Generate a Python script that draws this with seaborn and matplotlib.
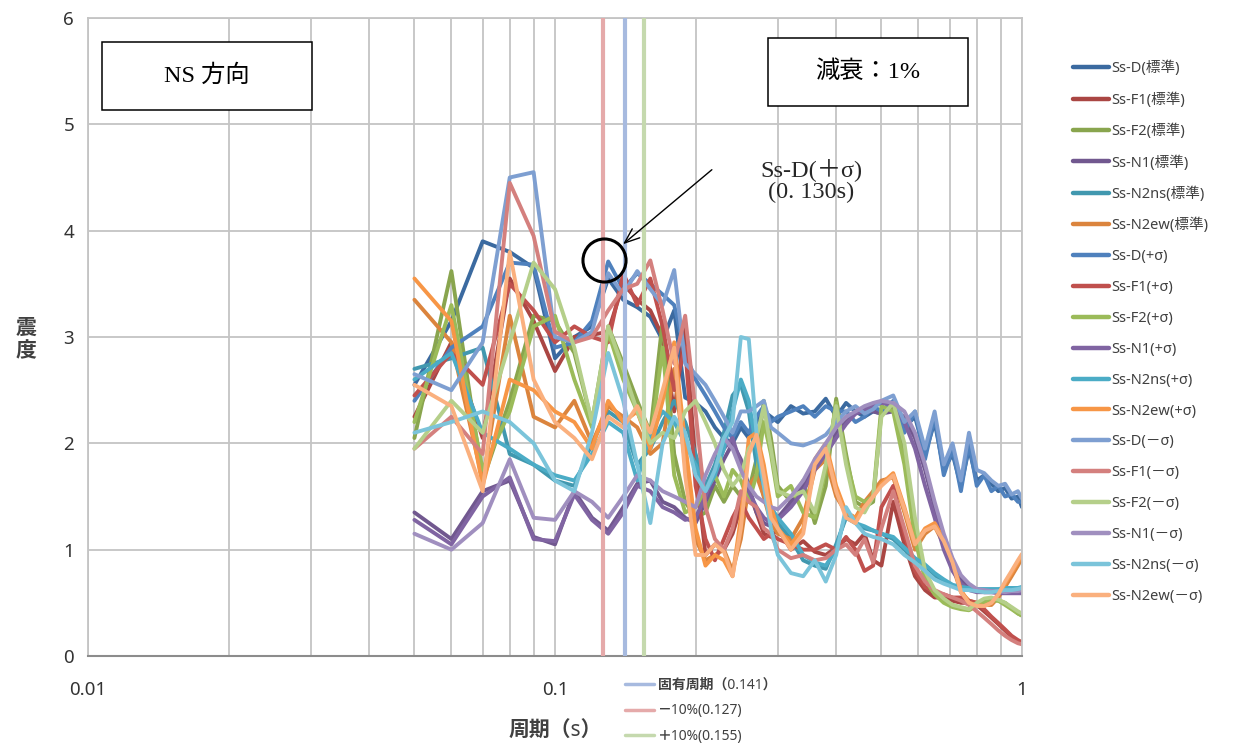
import numpy as np
import pandas as pd
import matplotlib
matplotlib.use("Agg")
import matplotlib.pyplot as plt
from matplotlib.lines import Line2D
from matplotlib.patches import Rectangle
from matplotlib.ticker import LogLocator, FixedLocator, NullFormatter
import seaborn as sns

# periods (s)
periods = [0.05, 0.06, 0.07, 0.08, 0.09, 0.10,
           0.11, 0.12, 0.13, 0.14, 0.15, 0.16, 0.17, 0.18, 0.19, 0.20,
           0.21, 0.22, 0.23, 0.24, 0.25, 0.26, 0.27, 0.28, 0.29, 0.30,
           0.32, 0.34, 0.36, 0.38, 0.40, 0.42, 0.44, 0.46, 0.48, 0.50,
           0.53, 0.56, 0.59, 0.62, 0.65, 0.68, 0.71, 0.74, 0.77, 0.80, 0.83,
           0.86, 0.89, 0.92, 0.95, 0.98, 1.00]

ss_d_std = [2.55, 3.15, 3.90, 3.80, 3.65, 2.80,
            3.00, 3.10, 3.55, 3.35, 3.28, 3.19, 2.97, 3.25, 2.43, 2.38,
            2.30, 2.15, 2.05, 2.00, 2.15, 2.05, 2.20, 2.30, 2.25, 2.20,
            2.35, 2.28, 2.30, 2.42, 2.25, 2.38, 2.30, 2.25, 2.30, 2.28,
            2.35, 2.15, 2.25, 1.90, 2.20, 1.75, 1.90, 1.60, 1.95, 1.65, 1.70,
            1.62, 1.55, 1.58, 1.48, 1.50, 1.40]
ss_f1_std = [2.25, 2.95, 2.05, 3.55, 3.15, 2.68,
             3.00, 3.02, 3.05, 3.50, 3.35, 3.25, 3.00, 2.30, 3.08, 1.80,
             0.95, 1.05, 1.00, 1.15, 1.40, 1.55, 1.35, 1.15, 1.12, 1.20,
             1.00, 1.08, 0.98, 0.95, 1.02, 1.10, 1.05, 1.15, 0.90, 0.85,
             1.45, 1.05, 0.75, 0.62, 0.55, 0.55, 0.52, 0.50, 0.50, 0.48, 0.42,
             0.36, 0.30, 0.24, 0.18, 0.14, 0.12]
ss_f2_std = [2.05, 3.62, 1.65, 2.40, 3.20, 3.15,
             2.85, 2.20, 3.10, 2.75, 2.40, 2.10, 3.15, 1.90, 1.45, 1.30,
             1.35, 1.60, 1.45, 1.60, 1.50, 1.55, 1.85, 2.40, 2.05, 1.60,
             1.45, 1.65, 1.25, 1.60, 2.42, 1.90, 1.45, 1.40, 1.45, 2.30,
             2.35, 1.90, 1.20, 0.75, 0.60, 0.52, 0.48, 0.45, 0.44, 0.48, 0.52,
             0.54, 0.52, 0.50, 0.45, 0.40, 0.38]
ss_n1_std = [1.35, 1.10, 1.55, 1.65, 1.12, 1.05,
             1.55, 1.30, 1.18, 1.40, 1.62, 1.65, 1.45, 1.40, 1.30, 1.25,
             1.45, 1.65, 1.85, 2.00, 1.85, 1.60, 1.35, 1.25, 1.22, 1.30,
             1.45, 1.60, 1.80, 1.95, 2.10, 2.20, 2.28, 2.30, 2.30, 2.28,
             2.30, 2.25, 2.05, 1.75, 1.40, 1.10, 0.88, 0.72, 0.65, 0.62, 0.60,
             0.60, 0.60, 0.60, 0.60, 0.60, 0.60]
ss_n2ns_std = [2.70, 2.80, 2.90, 1.90, 1.80, 1.65,
               1.60, 2.00, 2.30, 2.20, 1.80, 1.95, 2.20, 2.40, 2.20, 1.90,
               1.60, 1.80, 2.10, 2.45, 2.55, 2.30, 1.80, 1.50, 1.30, 1.25,
               1.10, 0.90, 0.85, 0.82, 1.05, 1.30, 1.25, 1.20, 1.18, 1.15,
               1.10, 1.00, 0.90, 0.85, 0.76, 0.70, 0.66, 0.64, 0.63, 0.62, 0.62,
               0.62, 0.61, 0.62, 0.62, 0.63, 0.63]
ss_n2ew_std = [3.35, 2.95, 1.65, 3.20, 2.25, 2.15,
               2.40, 2.00, 2.35, 2.25, 2.15, 1.90, 2.00, 2.70, 1.80, 1.10,
               0.90, 0.95, 1.00, 0.80, 1.10, 1.60, 1.70, 1.50, 1.25, 1.15,
               1.10, 1.30, 1.75, 1.85, 1.50, 1.35, 1.30, 1.45, 1.55, 1.65,
               1.68, 1.35, 1.00, 1.15, 1.22, 1.05, 0.85, 0.60, 0.52, 0.50, 0.48,
               0.48, 0.55, 0.65, 0.75, 0.85, 0.92]

ss_d_plus = [2.40, 2.90, 3.10, 3.70, 3.68, 2.90,
             2.95, 3.15, 3.71, 3.45, 3.60, 3.50, 3.40, 3.30, 2.85, 2.60,
             2.45, 2.30, 2.15, 2.05, 2.20, 2.10, 2.25, 2.35, 2.20, 2.25,
             2.30, 2.35, 2.25, 2.35, 2.30, 2.30, 2.20, 2.25, 2.35, 2.30,
             2.40, 2.10, 2.30, 1.85, 2.25, 1.70, 1.95, 1.55, 2.00, 1.60, 1.70,
             1.55, 1.60, 1.50, 1.52, 1.45, 1.45]
ss_f1_plus = [2.45, 2.85, 2.55, 3.50, 3.25, 2.95,
              3.10, 3.00, 2.95, 3.60, 3.30, 3.55, 3.10, 2.50, 2.90, 1.60,
              1.10, 0.90, 1.10, 1.30, 1.45, 1.30, 1.20, 1.10, 1.15, 1.10,
              1.05, 1.00, 1.00, 1.05, 1.00, 1.12, 1.00, 0.80, 0.85, 1.40,
              1.60, 1.15, 0.80, 0.65, 0.60, 0.58, 0.55, 0.55, 0.52, 0.50, 0.44,
              0.37, 0.31, 0.25, 0.19, 0.15, 0.13]
ss_f2_plus = [2.20, 3.30, 1.75, 2.30, 3.10, 3.20,
              2.60, 2.15, 3.05, 2.60, 2.30, 2.00, 2.90, 1.70, 1.35, 1.40,
              1.55, 1.70, 1.50, 1.75, 1.65, 1.45, 1.70, 2.20, 1.90, 1.50,
              1.60, 1.35, 1.30, 1.75, 2.38, 1.85, 1.50, 1.45, 1.50, 2.35,
              2.30, 1.80, 1.10, 0.72, 0.58, 0.50, 0.46, 0.44, 0.43, 0.47, 0.50,
              0.52, 0.52, 0.48, 0.44, 0.40, 0.38]
ss_n1_plus = [1.28, 1.05, 1.50, 1.68, 1.10, 1.08,
              1.52, 1.28, 1.15, 1.35, 1.60, 1.55, 1.40, 1.35, 1.28, 1.30,
              1.50, 1.75, 1.95, 2.05, 1.80, 1.55, 1.40, 1.30, 1.25, 1.28,
              1.40, 1.55, 1.75, 1.90, 2.05, 2.18, 2.28, 2.32, 2.35, 2.38,
              2.36, 2.20, 1.95, 1.60, 1.30, 1.00, 0.80, 0.68, 0.62, 0.60, 0.60,
              0.60, 0.59, 0.59, 0.59, 0.59, 0.59]
ss_n2ns_plus = [2.60, 2.85, 2.10, 1.95, 1.80, 1.70,
                1.65, 1.90, 2.20, 2.10, 1.65, 2.10, 2.30, 2.20, 2.00, 1.80,
                1.55, 1.70, 1.95, 2.30, 2.60, 2.40, 1.95, 1.60, 1.40, 1.30,
                1.15, 0.95, 0.88, 0.85, 1.00, 1.35, 1.25, 1.22, 1.18, 1.15,
                1.12, 1.02, 0.92, 0.86, 0.78, 0.72, 0.67, 0.65, 0.64, 0.63, 0.63,
                0.63, 0.63, 0.64, 0.64, 0.64, 0.65]
ss_n2ew_plus = [3.55, 3.15, 1.60, 2.60, 2.50, 2.30,
                2.20, 1.95, 2.40, 2.20, 2.30, 1.95, 2.40, 2.95, 2.00, 1.20,
                0.85, 0.95, 0.90, 0.75, 1.30, 2.05, 2.10, 1.80, 1.40, 1.20,
                1.05, 1.20, 1.85, 2.00, 1.60, 1.35, 1.30, 1.40, 1.50, 1.62,
                1.72, 1.40, 1.05, 1.20, 1.25, 1.10, 0.90, 0.62, 0.50, 0.48, 0.47,
                0.50, 0.58, 0.68, 0.78, 0.88, 0.95]

ss_d_minus = [2.65, 2.50, 2.95, 4.50, 4.55, 3.00,
              2.95, 3.05, 3.60, 3.40, 3.62, 3.45, 3.30, 3.63, 2.75, 2.65,
              2.55, 2.40, 2.25, 2.10, 2.30, 2.30, 2.35, 2.40, 2.15, 2.10,
              2.00, 1.98, 2.02, 2.08, 2.20, 2.30, 2.35, 2.28, 2.32, 2.40,
              2.45, 2.20, 2.30, 1.95, 2.30, 1.80, 2.00, 1.65, 2.10, 1.75, 1.72,
              1.65, 1.60, 1.62, 1.52, 1.55, 1.48]
ss_f1_minus = [1.95, 2.25, 1.90, 4.45, 3.95, 3.05,
               2.95, 3.00, 3.25, 3.45, 3.50, 3.72, 3.25, 2.75, 3.20, 2.30,
               1.40, 1.10, 1.00, 1.20, 1.55, 1.45, 1.40, 1.20, 1.15, 1.00,
               0.92, 0.95, 0.90, 0.92, 1.00, 1.05, 0.95, 1.10, 0.88, 1.20,
               1.55, 1.20, 0.85, 0.70, 0.62, 0.58, 0.55, 0.52, 0.48, 0.42, 0.36,
               0.30, 0.24, 0.19, 0.15, 0.12, 0.11]
ss_f2_minus = [1.95, 2.40, 2.10, 2.95, 3.70, 3.45,
               2.90, 2.20, 3.10, 2.70, 2.30, 2.00, 2.10, 2.05, 2.30, 2.40,
               2.20, 2.00, 1.75, 1.60, 1.70, 1.95, 2.05, 2.35, 1.95, 1.55,
               1.50, 1.55, 1.35, 1.80, 2.35, 1.80, 1.40, 1.35, 1.50, 2.25,
               2.38, 2.00, 1.30, 0.80, 0.62, 0.54, 0.48, 0.46, 0.44, 0.50, 0.54,
               0.55, 0.53, 0.50, 0.46, 0.42, 0.40]
ss_n1_minus = [1.15, 1.00, 1.25, 1.85, 1.30, 1.28,
               1.55, 1.45, 1.30, 1.50, 1.70, 1.65, 1.55, 1.50, 1.45, 1.40,
               1.70, 1.90, 2.05, 1.95, 1.75, 1.60, 1.50, 1.45, 1.40, 1.38,
               1.50, 1.65, 1.85, 2.00, 2.15, 2.25, 2.30, 2.35, 2.38, 2.40,
               2.38, 2.30, 2.10, 1.80, 1.45, 1.15, 0.92, 0.76, 0.68, 0.63, 0.62,
               0.61, 0.61, 0.60, 0.61, 0.61, 0.62]
ss_n2ns_minus = [2.10, 2.20, 2.30, 2.20, 2.00, 1.65,
                 1.55, 2.10, 2.85, 2.40, 1.80, 1.25, 2.00, 2.25, 2.10, 1.70,
                 1.55, 1.75, 2.05, 2.20, 3.00, 2.98, 2.10, 1.60, 1.20, 0.95,
                 0.78, 0.75, 0.90, 0.70, 0.95, 1.40, 1.25, 1.15, 1.12, 1.10,
                 1.05, 0.95, 0.88, 0.80, 0.72, 0.68, 0.65, 0.62, 0.62, 0.61, 0.60,
                 0.60, 0.61, 0.62, 0.62, 0.63, 0.64]
ss_n2ew_minus = [2.55, 2.35, 1.55, 3.80, 2.60, 2.20,
                 2.05, 1.85, 2.25, 2.15, 2.35, 2.10, 2.50, 2.90, 1.70, 0.95,
                 0.95, 1.05, 0.98, 0.75, 1.20, 1.90, 2.08, 1.70, 1.30, 1.20,
                 1.00, 1.15, 1.80, 1.95, 1.55, 1.30, 1.25, 1.40, 1.50, 1.60,
                 1.70, 1.38, 1.05, 1.18, 1.22, 1.08, 0.88, 0.60, 0.50, 0.47, 0.47,
                 0.50, 0.58, 0.70, 0.80, 0.90, 0.96]

series_names = ["Ss-D(標準)", "Ss-F1(標準)", "Ss-F2(標準)", "Ss-N1(標準)",
                "Ss-N2ns(標準)", "Ss-N2ew(標準)",
                "Ss-D(+σ)", "Ss-F1(+σ)", "Ss-F2(+σ)", "Ss-N1(+σ)",
                "Ss-N2ns(+σ)", "Ss-N2ew(+σ)",
                "Ss-D(－σ)", "Ss-F1(－σ)", "Ss-F2(－σ)", "Ss-N1(－σ)",
                "Ss-N2ns(－σ)", "Ss-N2ew(－σ)"]
series_values = [ss_d_std, ss_f1_std, ss_f2_std, ss_n1_std, ss_n2ns_std, ss_n2ew_std,
                 ss_d_plus, ss_f1_plus, ss_f2_plus, ss_n1_plus, ss_n2ns_plus, ss_n2ew_plus,
                 ss_d_minus, ss_f1_minus, ss_f2_minus, ss_n1_minus, ss_n2ns_minus, ss_n2ew_minus]
series_colors = ["#3B6AA0", "#AA4643", "#89A54E", "#71588F", "#4198AF", "#DB843D",
                 "#4F81BD", "#C0504D", "#9BBB59", "#8064A2", "#4BACC6", "#F79646",
                 "#7E9FD1", "#D4807E", "#B5CF8A", "#A08FBF", "#7BC4DA", "#FAB07E"]

# natural period and ±10% markers
ref_periods = [0.141, 0.127, 0.155]
ref_labels = ["固有周期（0.141）", "－10%(0.127)", "＋10%(0.155)"]
ref_colors = ["#A7BADF", "#E5AAAA", "#C5D9AE"]

df = pd.concat(
    [pd.DataFrame({"period": periods, "value": vals, "series": name})
     for name, vals in zip(series_names, series_values)],
    ignore_index=True)

sns.set_theme(style="white")
plt.rcParams["font.family"] = ["Noto Sans", "Noto Sans CJK JP"]

W, H = 1233, 751
fig = plt.figure(figsize=(W / 100, H / 100), dpi=100)
ax = fig.add_axes([88 / W, (H - 656) / H, (1022 - 88) / W, (656 - 18) / H])

palette = dict(zip(series_names, series_colors))
sns.lineplot(data=df, x="period", y="value", hue="series", hue_order=series_names,
             palette=palette, linewidth=2.8, legend=False, sort=False,
             estimator=None, ax=ax)

for p, c in zip(ref_periods, ref_colors):
    ax.axvline(p, color=c, lw=3.0, zorder=5)

ax.set_xscale("log")
ax.set_xlim(0.01, 1)
ax.set_ylim(0, 6)
ax.xaxis.set_major_locator(FixedLocator([0.01, 0.1, 1]))
ax.xaxis.set_minor_locator(LogLocator(base=10, subs=np.arange(2, 10)))
ax.xaxis.set_minor_formatter(NullFormatter())
ax.set_xticklabels(["0.01", "0.1", "1"])
ax.set_yticks(range(0, 7))
ax.grid(which="both", axis="x", color="#C4C4C4", lw=1.3, zorder=0)
ax.grid(which="major", axis="y", color="#C4C4C4", lw=1.3, zorder=0)
ax.set_axisbelow(True)
for s in ["left", "top", "right"]:
    ax.spines[s].set_color("#C4C4C4")
    ax.spines[s].set_linewidth(1.3)
ax.spines["bottom"].set_color("#8C8C8C")
ax.spines["bottom"].set_linewidth(1.5)
ax.tick_params(axis="both", which="both", length=0, labelsize=13.5,
               labelcolor="#333333")
ax.tick_params(axis="x", pad=18)
ax.tick_params(axis="y", pad=10)
ax.set_xlabel("")
ax.set_ylabel("")

fig.text(555 / W, 1 - 731 / H, "周期（s）", ha="center", va="center",
         fontsize=15, fontweight="bold", color="#404040")
fig.text(26 / W, 1 - 340 / H, "震\n度", ha="center", va="center",
         fontsize=15, fontweight="bold", color="#404040", linespacing=1.1)

# labelled boxes
serif_cjk = ["Liberation Serif", "Noto Sans CJK JP"]
for (x0, y0, x1, y1, label) in [(102, 42, 312, 110, "NS 方向"),
                                (768, 38, 968, 106, "減衰：1%")]:
    fig.add_artist(Rectangle((x0 / W, 1 - y1 / H), (x1 - x0) / W, (y1 - y0) / H,
                             transform=fig.transFigure, facecolor="white",
                             edgecolor="black", lw=1.1, zorder=8))
    fig.text((x0 + x1) / 2 / W, 1 - (y0 + y1) / 2 / H, label, ha="center",
             va="center", fontsize=17.5, family=serif_cjk, color="black", zorder=9)

# highlighted peak
ax.plot([0.1272], [3.72], marker="o", ms=31, mfc="none", mec="black", mew=2.2,
        zorder=7)
ax.annotate("", xy=(0.1384, 3.856), xytext=(0.219, 4.59),
            arrowprops=dict(arrowstyle="->,head_length=0.9,head_width=0.35",
                            color="black", lw=1.0), zorder=7)
ax.text(0.3534, 4.47, "Ss-D(＋σ)\n(0. 130s)", ha="center", va="center",
        fontsize=17.5, family=serif_cjk, linespacing=1.05, zorder=7)

# series legend
handles = [Line2D([], [], color=c, lw=3.2) for c in series_colors]
fig.legend(handles, series_names, loc="upper left",
           bbox_to_anchor=(1073 / W, 1 - 61 / H), frameon=False, fontsize=10.5,
           handlelength=2.5, handletextpad=0.12, labelspacing=1.09,
           labelcolor="#404040", borderaxespad=0, borderpad=0)

# period marker legend
ref_handles = [Line2D([], [], color=c, lw=2.5) for c in ref_colors]
fig.legend(ref_handles, ref_labels, loc="upper left",
           bbox_to_anchor=(625 / W, 1 - 678 / H), frameon=False,
           prop={"size": 10, "weight": "bold"}, handlelength=2.1,
           handletextpad=0.3, labelspacing=0.75, labelcolor="#404040",
           borderaxespad=0, borderpad=0)

fig.savefig("out.png", dpi=100, facecolor="white")
